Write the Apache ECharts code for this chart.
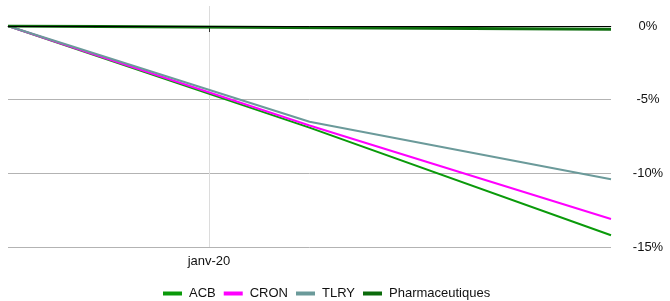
<!DOCTYPE html>
<html>
<head>
<meta charset="utf-8">
<script src="https://cdn.jsdelivr.net/npm/echarts@6/dist/echarts.min.js"></script>
<style>html,body{margin:0;padding:0;background:#fff}#c{width:670px;height:301px}</style>
</head>
<body>
<div id="c"></div>
<script>
// x positions (ordinal steps); only "janv-20" is labelled
const categories = ['p0', 'p1', 'janv-20', 'p3', 'p4', 'p5', 'p6'];
const labelledIndex = 2;
// values in %, null where the source line has no vertex
const acb    = [0, null, null, -6.9, null, null, -14.2];
const cron   = [0, null, null, -6.75, null, null, -13.1];
const tlry   = [0, null, null, -6.5, null, null, -10.4];
const pharma = [0, null, null, null, null, null, -0.22];
const yTicks = [-15, -10, -5, 0];

const font = 'Liberation Sans, Arial, sans-serif';
const chart = echarts.init(document.getElementById('c'), null, {renderer: 'canvas'});
const showOnly = (i) => i === labelledIndex;

function line(name, data, color, width) {
  return {
    name, type: 'line', data, connectNulls: true, symbol: 'none',
    xAxisIndex: 0, yAxisIndex: 0,
    lineStyle: {color, width}, itemStyle: {color}, animation: false
  };
}
const series = [
  line('ACB', acb, '#0a9a0a', 2),
  line('CRON', cron, '#ff00ff', 2),
  line('TLRY', tlry, '#6b9a9a', 2),
  line('Pharmaceutiques', pharma, '#0b6b0b', 3)
];
series[0].markLine = {
  silent: true, symbol: 'none', label: {show: false},
  lineStyle: {color: '#000', width: 1, type: 'solid'},
  data: [{yAxis: 0}]
};

chart.setOption({
  animation: false,
  grid: [
    {left: 8, right: 59, top: 26, bottom: 54},
    {left: 8, right: 59, top: 6, bottom: 54}
  ],
  xAxis: [
    {
      type: 'category', gridIndex: 0, data: categories, boundaryGap: false,
      axisLine: {show: true, lineStyle: {color: '#b3b3b3', width: 1}},
      axisTick: {show: true, interval: showOnly, length: 6, lineStyle: {color: '#333'}},
      axisLabel: {interval: showOnly, margin: 8, color: '#111', fontSize: 13, fontFamily: font},
      splitLine: {show: false}
    },
    {
      type: 'category', gridIndex: 1, data: categories, boundaryGap: false,
      axisLine: {show: false}, axisTick: {show: false}, axisLabel: {show: false},
      splitLine: {show: true, interval: showOnly, lineStyle: {color: '#dcdcdc', width: 1}}
    }
  ],
  yAxis: [
    {
      type: 'value', gridIndex: 0, position: 'right',
      min: yTicks[0], max: yTicks[yTicks.length - 1], interval: 5,
      axisLine: {show: false}, axisTick: {show: false},
      axisLabel: {formatter: v => v + '%', align: 'center', margin: 37, padding: [5, 0, 0, 0],
        color: '#111', fontSize: 13, fontFamily: font},
      splitLine: {show: true, lineStyle: {color: '#b3b3b3', width: 1}}
    },
    {
      type: 'value', gridIndex: 1, min: 0, max: 1, show: false, splitLine: {show: false}
    }
  ],
  legend: {
    bottom: 1, left: 163, padding: 0, itemWidth: 19, itemHeight: 4, itemGap: 8,
    icon: 'rect',
    data: ['ACB', 'CRON', 'TLRY', 'Pharmaceutiques'],
    textStyle: {color: '#111', fontSize: 13, fontFamily: font, padding: [0, 0, 0, 2]}
  },
  series
});
</script>
</body>
</html>
